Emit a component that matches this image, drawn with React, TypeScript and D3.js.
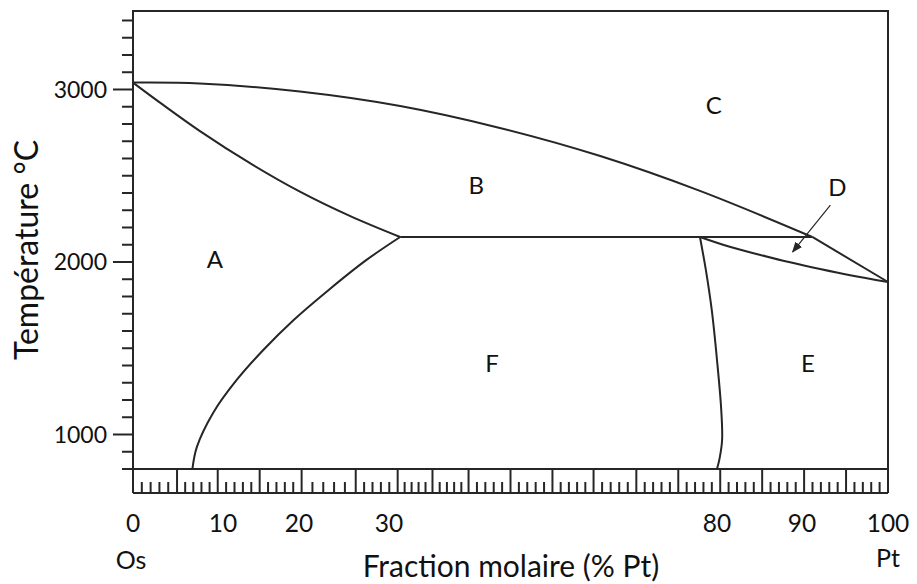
import { useRef, useEffect } from "react";
import * as d3 from "d3";

// composition (% Pt) / temperature (°C)
const xTicks = [0, 10, 20, 30, 80, 90, 100];
const yMajorTicks = [1000, 2000, 3000];
const yMinorTicks = d3.range(800, 3500, 100).filter((t) => t % 1000 !== 0);

const liquidus: [number, number][] = [
  [0, 3040], [7.4, 3035], [20.1, 2988], [31.7, 2904], [46.9, 2777],
  [62.2, 2614], [77.4, 2412], [91.2, 2145],
];
const liquidusPt: [number, number][] = [[91.2, 2145], [100, 1884]];
const solidusOs: [number, number][] = [
  [0, 3040], [3.0, 2924], [7.44, 2759], [13.55, 2573], [20.1, 2408], [25.7, 2266], [31.7, 2145],
];
const solvusOs: [number, number][] = [
  [31.7, 2145], [27.5, 2012], [23.3, 1838], [19.3, 1664], [15.3, 1490],
  [11.8, 1316], [8.9, 1125], [7.1, 928], [6.6, 800],
];
const solvusPt: [number, number][] = [
  [77.4, 2145], [78.3, 1954], [79.2, 1722], [80.0, 1432], [80.5, 1142], [80.6, 968], [80.3, 860], [80.0, 800],
];
const solidusPt: [number, number][] = [
  [77.4, 2145], [81.5, 2088], [85.1, 2041], [88.6, 1998], [92.1, 1959], [95.6, 1923], [100, 1884],
];
const plateau: [number, number][] = [[31.7, 2145], [91.2, 2145]];

const regions = [
  { name: "A", x: 9.1, t: 2012 },
  { name: "B", x: 43.3, t: 2440 },
  { name: "C", x: 79.5, t: 2904 },
  { name: "D", x: 94.1, t: 2429 },
  { name: "E", x: 90.7, t: 1409 },
  { name: "F", x: 45.7, t: 1409 },
];
const arrowD: [number, number][] = [[93.3, 2330], [88.9, 2058]];

// ruler under the plot: major divisions (irregular as drawn), 5 subdivisions each
const rulerMarks = [0, 1.05, 2.02, 3.02, 4.02, 5.31, 6.31, 7.14, 8, 9, 10, 10.98, 12, 13, 14, 15, 16, 17, 18];

const FONT = "Lato, 'Open Sans', sans-serif";
const INK = "#262626";

export default function App() {
  const svgRef = useRef<SVGSVGElement>(null);

  useEffect(() => {
    if (!svgRef.current) return;
    const svg = d3.select(svgRef.current);
    svg.selectAll("*").remove();

    const left = 133, right = 888, top = 11, bottom = 469, rulerBottom = 493;

    // the original axis is not evenly spaced, so the labels drive a piecewise scale
    const x = d3.scaleLinear().domain(xTicks).range([left, 223, 299, 389, 717, 802, right]);
    const y = d3.scaleLinear().domain([800, 3455]).range([bottom, top]);
    const r = d3.scaleLinear().domain([0, 18]).range([left, right]);

    svg.append("defs").append("marker")
      .attr("id", "arr")
      .attr("viewBox", "0 0 10 10")
      .attr("refX", 9).attr("refY", 5)
      .attr("markerWidth", 9).attr("markerHeight", 9)
      .attr("orient", "auto")
      .append("path").attr("d", "M0,1 L10,5 L0,9 Z").attr("fill", INK);

    // Ruler
    const ruler = svg.append("g").attr("stroke", INK);
    rulerMarks.forEach((m, i) => {
      ruler.append("line").attr("x1", r(m)).attr("x2", r(m))
        .attr("y1", bottom).attr("y2", rulerBottom).attr("stroke-width", 2);
      if (i < rulerMarks.length - 1) {
        const next = rulerMarks[i + 1];
        for (let k = 1; k < 5; k++) {
          const v = m + ((next - m) * k) / 5;
          ruler.append("line").attr("x1", r(v)).attr("x2", r(v))
            .attr("y1", rulerBottom - 11).attr("y2", rulerBottom).attr("stroke-width", 2);
        }
      }
    });
    ruler.append("line").attr("x1", left).attr("x2", right)
      .attr("y1", rulerBottom).attr("y2", rulerBottom).attr("stroke-width", 2);

    // Frame
    svg.append("rect")
      .attr("x", left).attr("y", top)
      .attr("width", right - left).attr("height", bottom - top)
      .attr("fill", "none").attr("stroke", INK).attr("stroke-width", 2);

    // Y ticks
    const yAxis = svg.append("g").attr("stroke", INK).attr("stroke-width", 2);
    yMinorTicks.forEach((t) => {
      yAxis.append("line").attr("x1", left - 11).attr("x2", left).attr("y1", y(t)).attr("y2", y(t));
    });
    yMajorTicks.forEach((t) => {
      yAxis.append("line").attr("x1", left - 20).attr("x2", left).attr("y1", y(t)).attr("y2", y(t));
    });
    svg.append("g").selectAll("text").data(yMajorTicks).enter().append("text")
      .attr("x", 107).attr("y", (d) => y(d)).attr("dy", "0.35em")
      .attr("text-anchor", "end").attr("font-family", FONT).attr("font-size", 23)
      .attr("fill", "#111").text((d) => d);

    // X tick labels
    svg.append("g").selectAll("text").data(xTicks).enter().append("text")
      .attr("x", (d) => x(d)).attr("y", 532)
      .attr("text-anchor", "middle").attr("font-family", FONT).attr("font-size", 24.5)
      .attr("fill", "#111").text((d) => d);

    svg.append("text").attr("x", x(0) - 2).attr("y", 569).attr("text-anchor", "middle")
      .attr("font-family", FONT).attr("font-size", 25).attr("fill", "#111").text("Os");
    svg.append("text").attr("x", x(100)).attr("y", 567).attr("text-anchor", "middle")
      .attr("font-family", FONT).attr("font-size", 25).attr("fill", "#111").text("Pt");

    svg.append("text").attr("x", 511).attr("y", 577).attr("text-anchor", "middle")
      .attr("font-family", FONT).attr("font-size", 30).attr("fill", "#111")
      .text("Fraction molaire (% Pt)");
    svg.append("text").attr("transform", "translate(38,250) rotate(-90)")
      .attr("text-anchor", "middle").attr("font-family", FONT).attr("font-size", 32)
      .attr("fill", "#111").text("Température °C");

    // Phase boundaries
    const curve = d3.line<[number, number]>()
      .x((d) => x(d[0])).y((d) => y(d[1]))
      .curve(d3.curveCatmullRom.alpha(0.5));
    const straight = d3.line<[number, number]>().x((d) => x(d[0])).y((d) => y(d[1]));

    const lines = svg.append("g").attr("fill", "none").attr("stroke", INK).attr("stroke-width", 2);
    [liquidus, solidusOs, solvusOs, solvusPt, solidusPt].forEach((pts) => {
      lines.append("path").attr("d", curve(pts));
    });
    [liquidusPt, plateau].forEach((pts) => {
      lines.append("path").attr("d", straight(pts));
    });

    // Arrow to region D
    svg.append("line")
      .attr("x1", x(arrowD[0][0])).attr("y1", y(arrowD[0][1]))
      .attr("x2", x(arrowD[1][0])).attr("y2", y(arrowD[1][1]))
      .attr("stroke", INK).attr("stroke-width", 1.2).attr("marker-end", "url(#arr)");

    // Region labels
    svg.append("g").selectAll("text").data(regions).enter().append("text")
      .attr("x", (d) => x(d.x)).attr("y", (d) => y(d.t)).attr("dy", "0.35em")
      .attr("text-anchor", "middle").attr("font-family", FONT).attr("font-size", 24)
      .attr("fill", "#111").text((d) => d.name);
  }, []);

  return (
    <svg
      ref={svgRef}
      width={917}
      height={584}
      style={{ position: "absolute", left: 0, top: 0, background: "#fff" }}
    />
  );
}
